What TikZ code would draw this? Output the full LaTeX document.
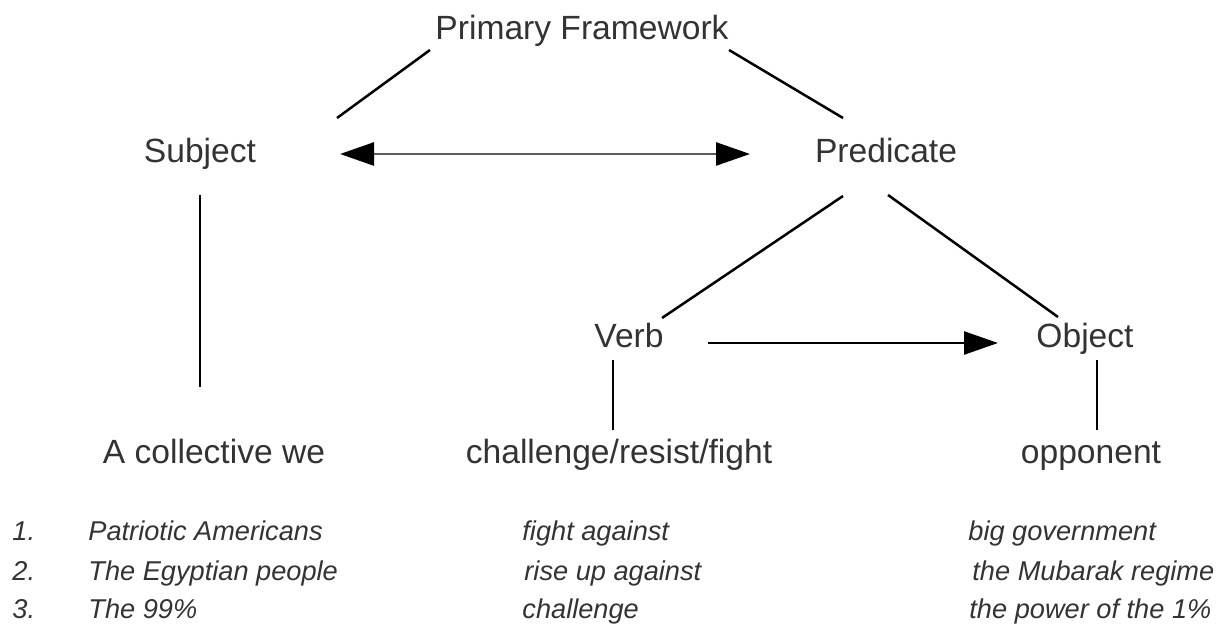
\documentclass[tikz,border=0pt]{standalone}
\usepackage{fontspec}
\setmainfont{Liberation Sans}
\usetikzlibrary{arrows.meta}
\definecolor{txt}{HTML}{333333}
\definecolor{shaft}{HTML}{5a5a5a}
\begin{document}
\begin{tikzpicture}[x=0.5pt,y=-0.5pt,
  term/.style={anchor=base,inner sep=0pt,text=txt,font=\fontsize{16.8}{19}\selectfont},
  example/.style={anchor=base west,inner sep=0pt,text=txt,font=\fontsize{13.6}{16}\selectfont\itshape},
  link/.style={line width=1.25pt,black},
  blacktip/.tip={Triangle[length=17pt,width=11.5pt,fill=black,color=black]},
  head/.style={-{Triangle[length=17pt,width=11.5pt]}}]
\useasboundingbox (0,0) rectangle (1224,624);

% tree labels
\node[term] (pf)   at (582,40)  {Primary Framework};
\node[term] (subj) at (200,163) {Subject};
\node[term] (pred) at (886,163) {Predicate};
\node[term] (verb) at (629,348) {Verb};
\node[term] (obj)  at (1085,348) {Object};
\node[term] (we)   at (214,463) {A collective we};
\node[term] (crf)  at (619,463) {challenge/resist/fight};
\node[term] (opp)  at (1091,463) {opponent};

% end points of the connectors
\coordinate (pf-l)   at (430,50);
\coordinate (pf-r)   at (729,50);
\coordinate (subj-t) at (337,118);
\coordinate (pred-t) at (843,118);
\coordinate (subj-e) at (340,154);
\coordinate (pred-w) at (750,154);
\coordinate (subj-s) at (200,195);
\coordinate (we-n)   at (200,387);
\coordinate (pred-l) at (843,196);
\coordinate (pred-r) at (888,195);
\coordinate (verb-t) at (662,318);
\coordinate (obj-t)  at (1058,317);
\coordinate (verb-e) at (708,343);
\coordinate (obj-w)  at (998,343);
\coordinate (verb-s) at (613,360);
\coordinate (crf-n)  at (613,430);
\coordinate (obj-s)  at (1097,360);
\coordinate (opp-n)  at (1097,430);

% connectors
\draw[link] (pf-l) -- (subj-t);
\draw[link] (pf-r) -- (pred-t);
\draw[line width=1.3pt,shaft,blacktip-blacktip] (subj-e) -- (pred-w);
\draw[link] (subj-s) -- (we-n);
\draw[link] (pred-l) -- (verb-t);
\draw[link] (pred-r) -- (obj-t);
\draw[link,head] (verb-e) -- (obj-w);
\draw[link] (verb-s) -- (crf-n);
\draw[link] (obj-s) -- (opp-n);

% numbered examples
\node[example] (n1) at (12,540) {1.};
\node[example] (n2) at (12,580) {2.};
\node[example] (n3) at (12,618) {3.};
\node[example] (s1) at (88,540) {Patriotic Americans};
\node[example] (s2) at (88,580) {The Egyptian people};
\node[example] (s3) at (88,618) {The 99\%};
\node[example] (v1) at (522,540) {fight against};
\node[example] (v2) at (524,580) {rise up against};
\node[example] (v3) at (522,618) {challenge};
\node[example] (o1) at (968,540) {big government};
\node[example] (o2) at (972,580) {the Mubarak regime};
\node[example] (o3) at (969,618) {the power of the 1\%};
\end{tikzpicture}
\end{document}
